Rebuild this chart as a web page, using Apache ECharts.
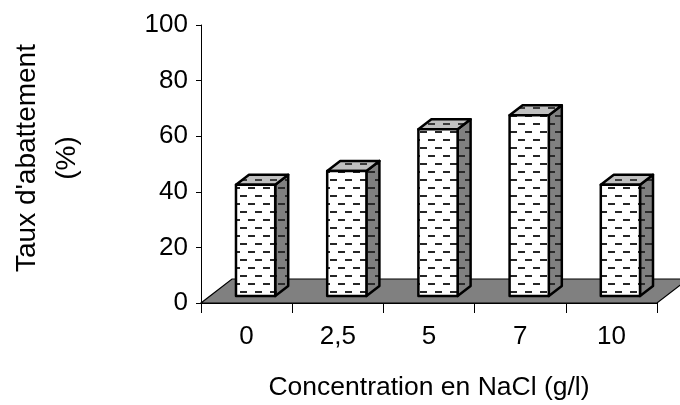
<!DOCTYPE html>
<html>
<head>
<meta charset="utf-8">
<script src="https://cdn.jsdelivr.net/npm/echarts@6/dist/echarts.min.js"></script>
<style>
  html, body { margin: 0; padding: 0; background: #fff; }
  #chart { width: 680px; height: 405px; }
</style>
</head>
<body>
<div id="chart"></div>
<script>
// NaCl concentration (g/l) and abatement rate (%)
const categories = ['0', '2,5', '5', '7', '10'];
const rates = [40, 45, 60, 65, 40];
const yMin = 0;
const yMax = 100;
const yStep = 20;

const FONT = '"Liberation Sans", Arial, sans-serif';

// Pseudo-3D geometry (pixels): oblique depth of the floor and of each column
const FLOOR_DX = 31, FLOOR_DY = -24;
const BAR_OFF_DX = 9, BAR_OFF_DY = -7;     // column front face set back into the floor
const BAR_DEPTH_DX = 13, BAR_DEPTH_DY = -10;
const BAR_WIDTH_RATIO = 0.43;

// Dashed hatch tile used on the column faces (staggered rows of short dashes)
function dashTile(bg, dash) {
  const c = document.createElement('canvas');
  c.width = 15; c.height = 16;
  const g = c.getContext('2d');
  g.fillStyle = bg;
  g.fillRect(0, 0, 15, 16);
  g.fillStyle = dash;
  g.fillRect(0, 3, 7, 2);
  g.fillRect(8, 11, 7, 2);
  return { image: c, repeat: 'repeat' };
}
const frontFill = dashTile('#ffffff', '#262626');
const sideFill = dashTile('#808080', '#2a2a2a');
const topFill = dashTile('#c0c0c0', '#3a3a3a');

const chart = echarts.init(document.getElementById('chart'), null, { renderer: 'canvas' });

chart.setOption({
  animation: false,
  backgroundColor: '#ffffff',
  grid: { left: 201, right: 23, top: 25, bottom: 102, containLabel: false, outerBoundsMode: 'none' },
  xAxis: {
    type: 'category',
    data: categories,
    boundaryGap: true,
    axisLine: { show: true, lineStyle: { color: '#000', width: 1 } },
    axisTick: { show: true, length: 10, interval: 0, lineStyle: { color: '#000' } },
    axisLabel: { color: '#000', fontSize: 26, fontFamily: FONT, margin: 21, interval: 0 },
    name: 'Concentration en NaCl (g/l)',
    nameLocation: 'middle',
    nameGap: 71,
    nameTextStyle: { color: '#000', fontSize: 26.5, fontFamily: FONT }
  },
  yAxis: {
    type: 'value',
    min: yMin,
    max: yMax,
    interval: yStep,
    axisLine: { show: true, lineStyle: { color: '#000', width: 1 } },
    axisTick: { show: true, length: 5, lineStyle: { color: '#000' } },
    splitLine: { show: false },
    axisLabel: { color: '#000', fontSize: 26, fontFamily: FONT, margin: 13 },
    name: "Taux d'abattement\n(%)",
    nameLocation: 'middle',
    nameRotate: 90,
    nameGap: 114,
    nameTextStyle: { color: '#000', fontSize: 28, fontFamily: FONT, lineHeight: 40, padding: [0, 0, 0, 12] }
  },
  series: [
    {
      // grey floor under the columns
      type: 'custom',
      z: 1,
      clip: false,
      data: [[0, 0]],
      renderItem: function (params, api) {
        const band = api.size([1, 0])[0];
        const first = api.coord([0, 0]);
        const last = api.coord([categories.length - 1, 0]);
        const l = first[0] - band / 2;
        const r = last[0] + band / 2;
        const y = first[1];
        return {
          type: 'polygon',
          shape: { points: [[l, y], [r, y], [r + FLOOR_DX, y + FLOOR_DY], [l + FLOOR_DX, y + FLOOR_DY]] },
          style: { fill: '#808080', stroke: '#000', lineWidth: 1.2 }
        };
      }
    },
    {
      // hatched 3D columns
      type: 'custom',
      z: 3,
      clip: false,
      data: rates.map((v, i) => [i, v]),
      encode: { x: 0, y: 1 },
      renderItem: function (params, api) {
        const i = api.value(0);
        const v = api.value(1);
        const base = api.coord([i, 0]);
        const top = api.coord([i, v]);
        const band = api.size([1, 0])[0];
        const w = band * BAR_WIDTH_RATIO;
        const fl = base[0] + BAR_OFF_DX - w / 2;
        const fr = fl + w;
        const yb = base[1] + BAR_OFF_DY;
        const yt = top[1] + BAR_OFF_DY;
        const dx = BAR_DEPTH_DX, dy = BAR_DEPTH_DY;
        const stroke = { stroke: '#000', lineWidth: 2.5, lineJoin: 'round' };
        return {
          type: 'group',
          children: [
            {
              type: 'polygon',
              shape: { points: [[fr, yt], [fr + dx, yt + dy], [fr + dx, yb + dy], [fr, yb]] },
              style: Object.assign({ fill: sideFill }, stroke)
            },
            {
              type: 'polygon',
              shape: { points: [[fl, yt], [fl + dx, yt + dy], [fr + dx, yt + dy], [fr, yt]] },
              style: Object.assign({ fill: topFill }, stroke)
            },
            {
              type: 'rect',
              shape: { x: fl, y: yt, width: w, height: yb - yt },
              style: Object.assign({ fill: frontFill }, stroke)
            }
          ]
        };
      }
    }
  ]
});
</script>
</body>
</html>
